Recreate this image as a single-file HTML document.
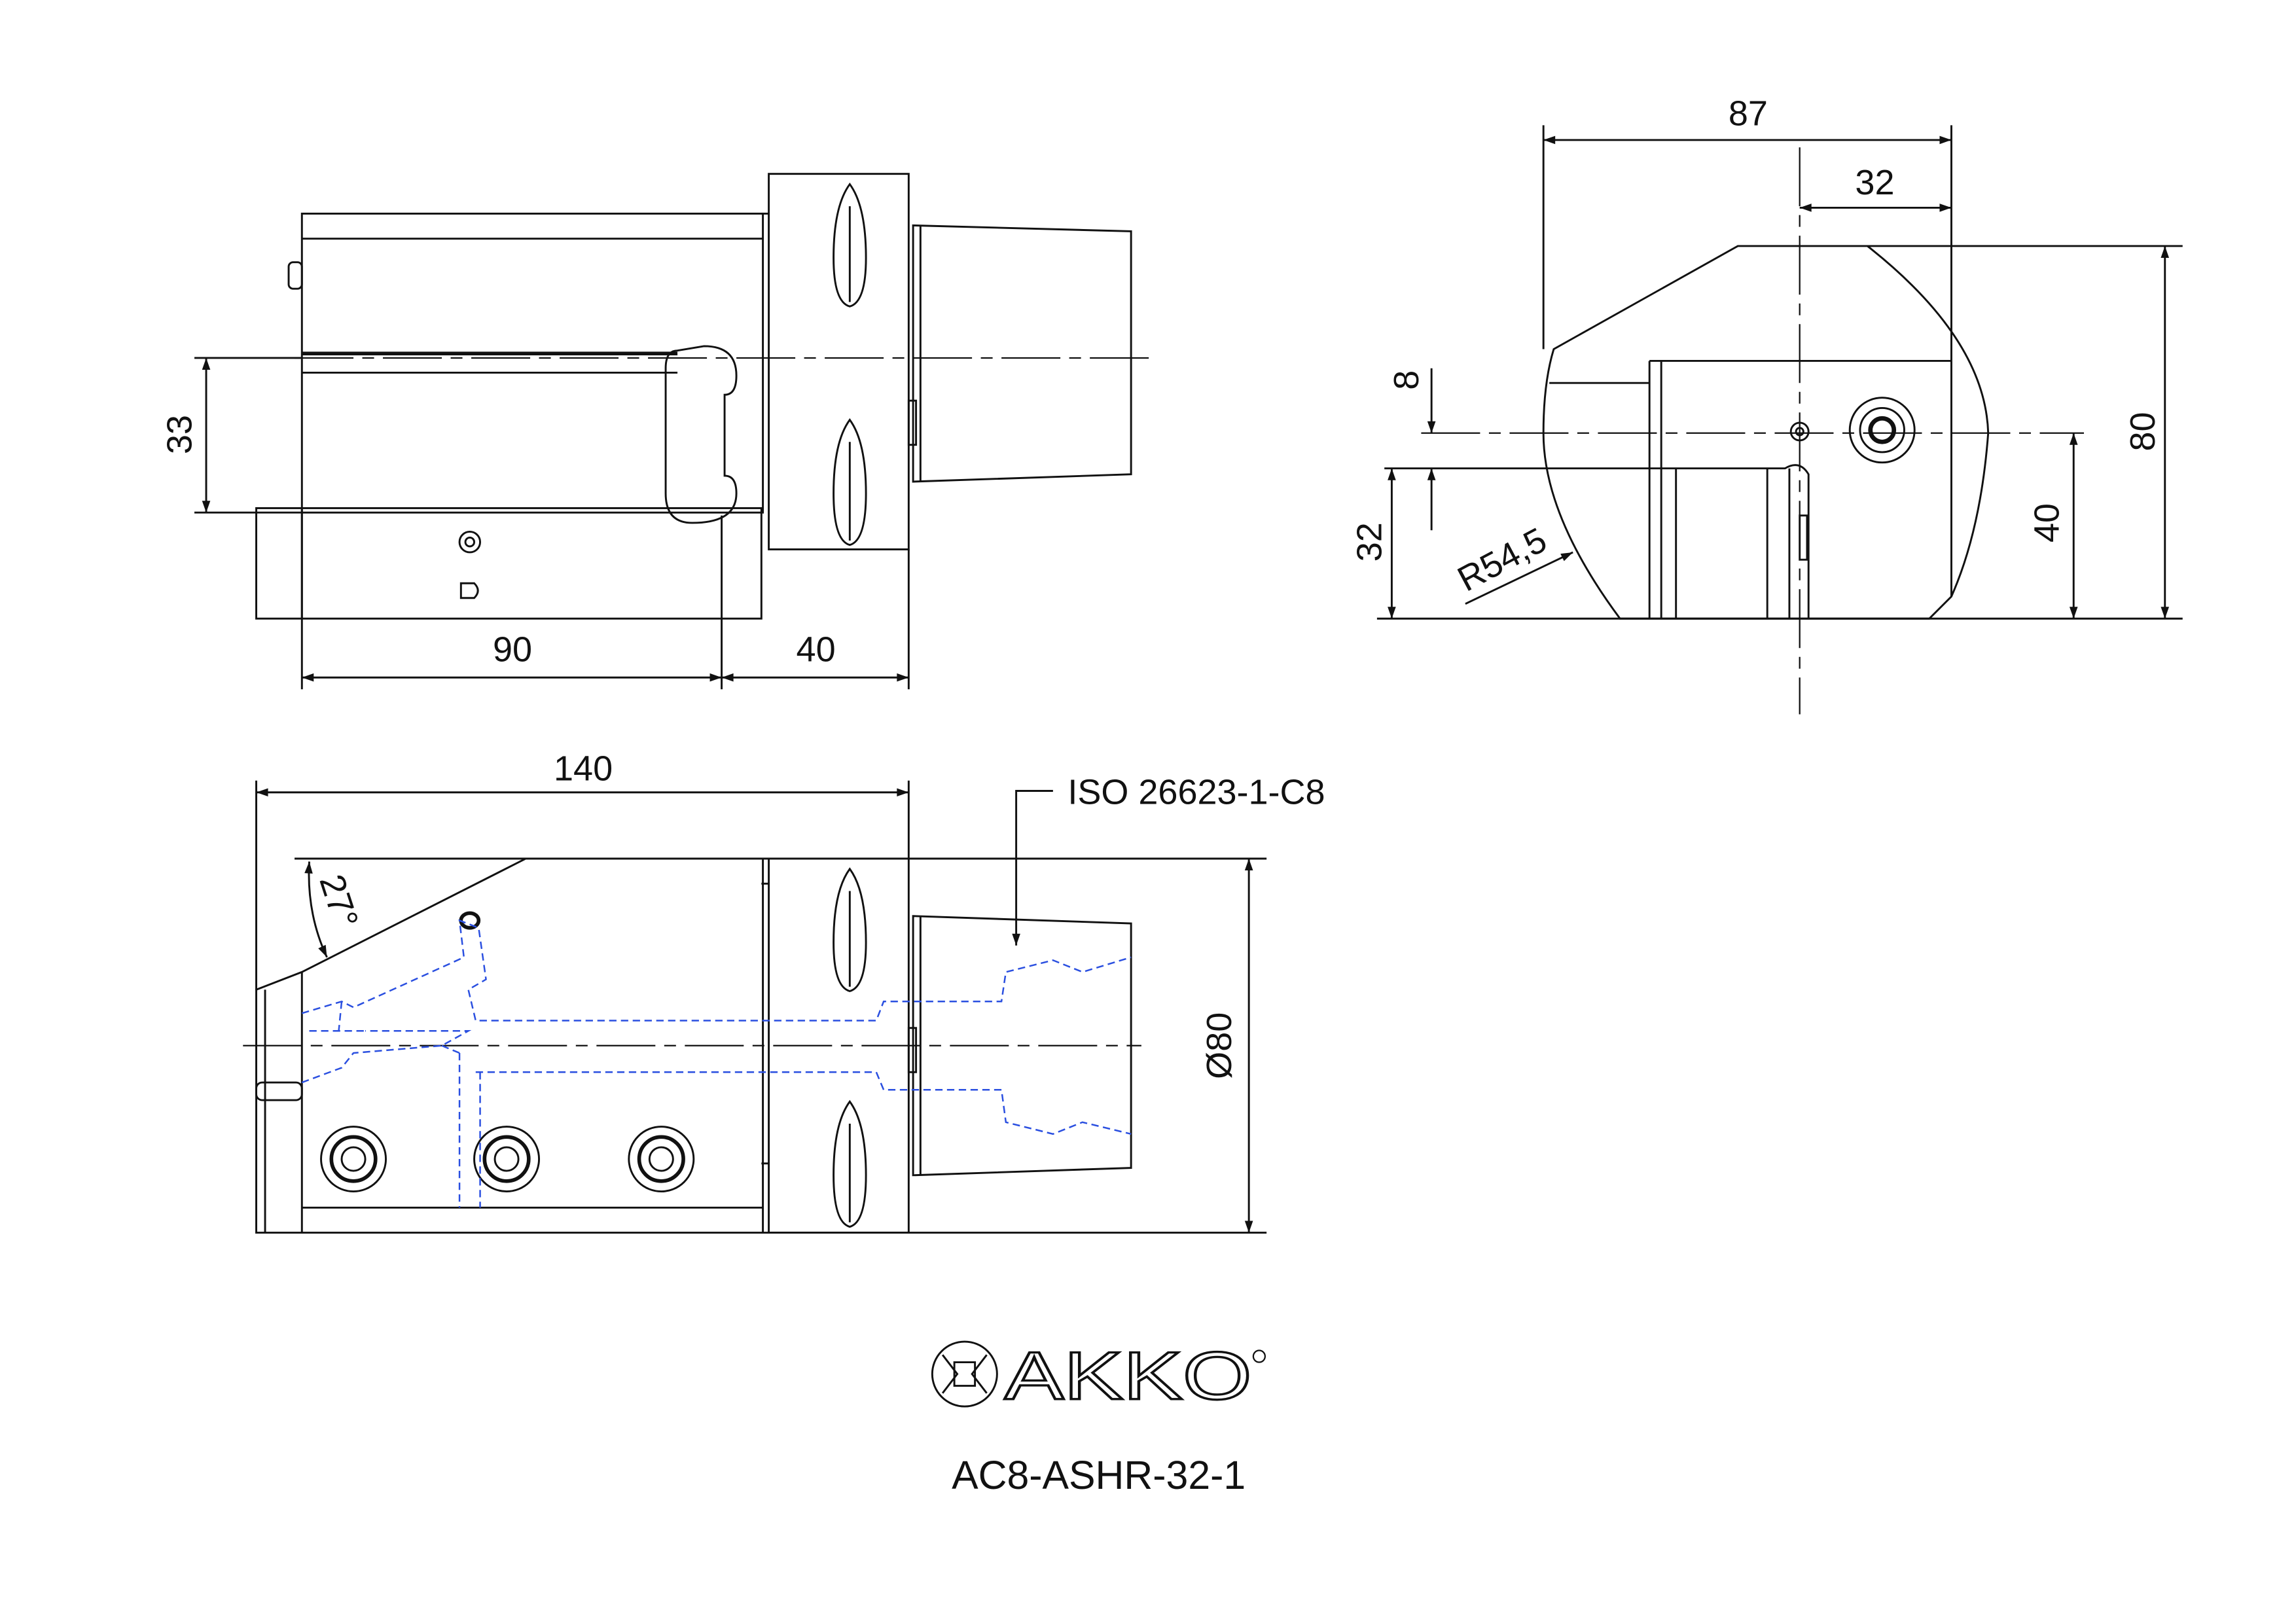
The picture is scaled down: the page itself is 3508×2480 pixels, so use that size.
<!DOCTYPE html>
<html><head><meta charset="utf-8"><style>
html,body{margin:0;padding:0;background:#fff;}
svg{display:block;}
text{font-family:"Liberation Sans",sans-serif;fill:#111;}
</style></head><body>
<svg width="3508" height="2480" viewBox="0 0 1559 1102" xmlns="http://www.w3.org/2000/svg">
<defs>
<marker id="a" viewBox="0 0 10 10" refX="10" refY="5" markerWidth="12" markerHeight="8" orient="auto-start-reverse" markerUnits="userSpaceOnUse"><path d="M0,1.5 L10,5 L0,8.5 z" fill="#111"/></marker>
</defs>
<g fill="none" stroke="#111" stroke-width="1.3">
<rect x="205" y="145" width="313" height="203"/>
<line x1="205" y1="162" x2="518" y2="162"/>
<line x1="205" y1="253" x2="460" y2="253"/>
<line x1="205" y1="240" x2="460" y2="240" stroke-width="2.5"/>
<rect x="174" y="345" width="343" height="75"/>
<line x1="205" y1="345" x2="205" y2="420"/>
<rect x="196" y="178" width="9" height="18" rx="3"/>
<path d="M460,238 Q452,238 452,250 L452,335 Q452,355 470,355 Q500,355 500,335 Q500,323 492,323 L492,268 Q500,268 500,255 Q500,235 478,235 Z"/>
<rect x="522" y="118" width="95" height="255"/>
<line x1="517" y1="145" x2="522" y2="145"/>
<path d="M577,125 Q566,140 566,175 Q566,205 577,208 Q588,205 588,175 Q588,140 577,125Z"/>
<path d="M577,285 Q566,300 566,335 Q566,367 577,370 Q588,367 588,335 Q588,300 577,285Z"/>
<line x1="577" y1="140" x2="577" y2="205"/><line x1="577" y1="300" x2="577" y2="367"/>
<path d="M620,153 L768,157 L768,322 L620,327 Z"/>
<line x1="625" y1="153" x2="625" y2="327"/>
<rect x="617" y="272" width="5" height="30"/>
<circle cx="319" cy="368" r="7"/><circle cx="319" cy="368" r="3"/>
<path d="M313,396 L322,396 Q327,401 322,406 L313,406 Z"/>
<line x1="200" y1="243" x2="780" y2="243" stroke-dasharray="40,6,8,6" stroke-width="1"/>
<line x1="132" y1="243" x2="205" y2="243"/><line x1="132" y1="348" x2="205" y2="348"/>
<line x1="140" y1="243" x2="140" y2="348" marker-start="url(#a)" marker-end="url(#a)"/>
<line x1="205" y1="348" x2="205" y2="468"/><line x1="490" y1="350" x2="490" y2="468"/><line x1="617" y1="373" x2="617" y2="468"/>
<line x1="205" y1="460" x2="490" y2="460" marker-start="url(#a)" marker-end="url(#a)"/>
<line x1="490" y1="460" x2="617" y2="460" marker-start="url(#a)" marker-end="url(#a)"/>

<path d="M1180,167 L1268,167 Q1348,230 1350,294 Q1345,360 1325,405 L1310,420 L1100,420 Q1048,350 1048,294 Q1048,260 1055,237 Z"/>
<line x1="1325" y1="167" x2="1325" y2="405"/>
<line x1="1052" y1="260" x2="1120" y2="260"/>
<path d="M1120,245 L1325,245 M1120,245 L1120,420 M1128,245 L1128,420 M1138,318 L1138,420 M1200,318 L1200,420 M1215,318 L1215,420"/>
<path d="M1120,318 L1212,318 Q1222,312 1228,322 L1228,420"/>
<rect x="1222" y="350" width="5" height="30"/>
<circle cx="1222" cy="293" r="6"/><circle cx="1222" cy="293" r="2.5"/>
<circle cx="1278" cy="292" r="22"/><circle cx="1278" cy="292" r="15"/><circle cx="1278" cy="292" r="8" stroke-width="3"/>
<line x1="1222" y1="100" x2="1222" y2="485" stroke-dasharray="40,6,8,6" stroke-width="1"/>
<line x1="965" y1="294" x2="1415" y2="294" stroke-dasharray="40,6,8,6" stroke-width="1"/>
<line x1="1048" y1="85" x2="1048" y2="237"/><line x1="1325" y1="85" x2="1325" y2="167"/>
<line x1="1048" y1="95" x2="1325" y2="95" marker-start="url(#a)" marker-end="url(#a)"/>
<line x1="1222" y1="141" x2="1325" y2="141" marker-start="url(#a)" marker-end="url(#a)"/>
<line x1="1268" y1="167" x2="1482" y2="167"/>
<line x1="935" y1="420" x2="1482" y2="420"/>
<line x1="1470" y1="167" x2="1470" y2="420" marker-start="url(#a)" marker-end="url(#a)"/>
<line x1="1408" y1="294" x2="1408" y2="420" marker-start="url(#a)" marker-end="url(#a)"/>
<line x1="940" y1="318" x2="1120" y2="318"/>
<line x1="972" y1="250" x2="972" y2="294" marker-end="url(#a)"/>
<line x1="972" y1="360" x2="972" y2="318" marker-end="url(#a)"/>
<line x1="945" y1="318" x2="945" y2="420" marker-start="url(#a)" marker-end="url(#a)"/>
<line x1="995" y1="410" x2="1068" y2="375" marker-end="url(#a)"/>

<path d="M205,583 L518,583 L518,837 L174,837 L174,672 L205,660 L357,583"/>
<line x1="205" y1="660" x2="205" y2="837"/>
<line x1="205" y1="820" x2="518" y2="820"/>
<line x1="180" y1="672" x2="180" y2="837"/>
<rect x="174" y="735" width="31" height="12" rx="4"/>
<rect x="522" y="583" width="95" height="254"/>
<line x1="517" y1="600" x2="522" y2="600"/><line x1="517" y1="790" x2="522" y2="790"/>
<path d="M577,590 Q566,605 566,640 Q566,670 577,673 Q588,670 588,640 Q588,605 577,590Z"/>
<path d="M577,748 Q566,763 566,798 Q566,830 577,833 Q588,830 588,798 Q588,763 577,748Z"/>
<line x1="577" y1="605" x2="577" y2="670"/><line x1="577" y1="763" x2="577" y2="830"/>
<path d="M620,622 L768,627 L768,793 L620,798 Z"/>
<line x1="625" y1="622" x2="625" y2="798"/>
<rect x="617" y="698" width="5" height="30"/>
<g>
<circle cx="240" cy="787" r="22"/><circle cx="240" cy="787" r="15" stroke-width="2.5"/><circle cx="240" cy="787" r="8"/>
<circle cx="344" cy="787" r="22"/><circle cx="344" cy="787" r="15" stroke-width="2.5"/><circle cx="344" cy="787" r="8"/>
<circle cx="449" cy="787" r="22"/><circle cx="449" cy="787" r="15" stroke-width="2.5"/><circle cx="449" cy="787" r="8"/>
</g>
<ellipse cx="319" cy="625" rx="6" ry="5" stroke-width="2.5"/>
<line x1="165" y1="710" x2="775" y2="710" stroke-dasharray="40,6,8,6" stroke-width="1"/>
<g stroke="#2a4fe0" stroke-dasharray="5,3" stroke-width="1.1">
<path d="M205,688 L232,680 L240,684 L315,650 L312,625 L325,630 L330,665 L318,672 L323,693 L595,693 L600,680 L680,680 L683,660 L715,652 L735,660 L768,650"/>
<path d="M205,735 L232,725 L240,715 L300,710 L318,700 L248,700"/>
<path d="M210,700 L240,700 L248,700"/>
<path d="M323,728 L595,728 L600,740 L680,740 L683,762 L715,770 L735,762 L768,770"/>
<path d="M312,715 L312,820 M326,728 L326,820 M312,715 L300,710"/>
<path d="M232,680 L230,700"/>
</g>
<line x1="174" y1="530" x2="174" y2="672"/><line x1="617" y1="530" x2="617" y2="583"/>
<line x1="174" y1="538" x2="617" y2="538" marker-start="url(#a)" marker-end="url(#a)"/>
<line x1="200" y1="583" x2="860" y2="583"/><line x1="518" y1="837" x2="860" y2="837"/>
<line x1="848" y1="583" x2="848" y2="837" marker-start="url(#a)" marker-end="url(#a)"/>
<path d="M715,537 L690,537 L690,642" marker-end="url(#a)"/>
<path d="M210,585 Q208,620 222,650" marker-start="url(#a)" marker-end="url(#a)"/>
<circle cx="655" cy="933" r="22"/>
<path d="M640,920 L650,933 L640,946 M670,920 L660,933 L670,946 M648,925 L662,925 L662,941 L648,941 Z"/>
</g>
<g font-size="24" text-anchor="middle">
<text x="122" y="295" transform="rotate(-90 122 295)" dy="8">33</text>
<text x="348" y="449">90</text>
<text x="554" y="449">40</text>
<text x="1187" y="85">87</text>
<text x="1273" y="132">32</text>
<text x="1455" y="293" transform="rotate(-90 1455 293)" dy="8">80</text>
<text x="1390" y="355" transform="rotate(-90 1390 355)" dy="8">40</text>
<text x="955" y="258" transform="rotate(-90 955 258)" dy="8">8</text>
<text x="930" y="368" transform="rotate(-90 930 368)" dy="8">32</text>
<text x="1020" y="380" transform="rotate(-28 1020 380)" dy="8">R54,5</text>
<text x="396" y="530">140</text>
<text x="828" y="710" transform="rotate(-90 828 710)" dy="8">Ø80</text>
<text x="230" y="612" transform="rotate(72 230 612)" dy="8">27°</text>
<text x="725" y="546" text-anchor="start">ISO 26623-1-C8</text>
<text x="746" y="1011" font-size="27">AC8-ASHR-32-1</text>
</g>
<text x="682" y="950" font-size="46" textLength="168" lengthAdjust="spacingAndGlyphs" style="fill:#fff;stroke:#111;stroke-width:1.5">AKKO</text>
<circle cx="855" cy="921" r="4" fill="none" stroke="#111"/>
</svg>
</body></html>
